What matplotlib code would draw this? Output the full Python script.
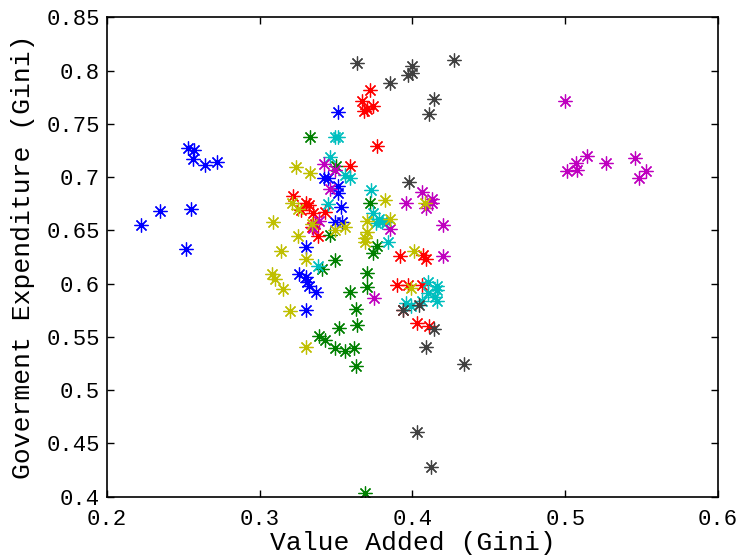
import matplotlib
matplotlib.use('Agg')
import matplotlib.pyplot as plt

# ─── Daten (Gini: Value Added vs. Government Expenditure) ─────────────────────

blue_x = [0.253, 0.257, 0.256, 0.264, 0.272, 0.222, 0.235, 0.255, 0.252, 0.351,
          0.342, 0.345, 0.351, 0.351, 0.353, 0.349, 0.354, 0.330, 0.326, 0.330,
          0.331, 0.332, 0.337, 0.330]
blue_y = [0.727, 0.725, 0.717, 0.711, 0.714, 0.655, 0.668, 0.670, 0.632, 0.761,
          0.699, 0.699, 0.692, 0.685, 0.672, 0.658, 0.658, 0.634, 0.609, 0.606,
          0.601, 0.598, 0.592, 0.575]

green_x = [0.333, 0.350, 0.372, 0.346, 0.374, 0.377, 0.349, 0.341, 0.359, 0.370,
           0.370, 0.363, 0.364, 0.352, 0.339, 0.343, 0.349, 0.356, 0.362, 0.363,
           0.369]
green_y = [0.738, 0.710, 0.676, 0.646, 0.629, 0.635, 0.622, 0.614, 0.592, 0.610,
           0.597, 0.576, 0.561, 0.558, 0.551, 0.547, 0.539, 0.537, 0.539, 0.523,
           0.403]

red_x = [0.372, 0.367, 0.374, 0.368, 0.370, 0.377, 0.359, 0.322, 0.330, 0.332,
         0.327, 0.335, 0.343, 0.336, 0.338, 0.334, 0.392, 0.407, 0.409, 0.390,
         0.397, 0.406, 0.394, 0.403, 0.411]
red_y = [0.782, 0.771, 0.767, 0.762, 0.764, 0.729, 0.710, 0.682, 0.676, 0.674,
         0.669, 0.666, 0.667, 0.656, 0.645, 0.653, 0.626, 0.627, 0.623, 0.599,
         0.599, 0.599, 0.575, 0.563, 0.560]

cyan_x = [0.349, 0.351, 0.346, 0.356, 0.359, 0.373, 0.345, 0.338, 0.374, 0.378,
          0.380, 0.376, 0.383, 0.384, 0.410, 0.416, 0.416, 0.415, 0.410, 0.406,
          0.396, 0.399, 0.416]
cyan_y = [0.738, 0.738, 0.719, 0.702, 0.699, 0.688, 0.675, 0.616, 0.666, 0.661,
          0.658, 0.657, 0.658, 0.639, 0.601, 0.598, 0.594, 0.587, 0.591, 0.584,
          0.582, 0.579, 0.584]

magenta_x = [0.500, 0.501, 0.507, 0.508, 0.514, 0.527, 0.546, 0.548, 0.553,
             0.342, 0.349, 0.346, 0.339, 0.335, 0.396, 0.406, 0.413, 0.409,
             0.413, 0.420, 0.385, 0.420, 0.375]
magenta_y = [0.771, 0.706, 0.713, 0.707, 0.720, 0.713, 0.718, 0.699, 0.706,
             0.712, 0.707, 0.689, 0.659, 0.652, 0.676, 0.686, 0.679, 0.671,
             0.676, 0.655, 0.651, 0.626, 0.586]

yellow_x = [0.324, 0.333, 0.314, 0.321, 0.325, 0.334, 0.356, 0.349, 0.325, 0.330,
            0.370, 0.370, 0.369, 0.369, 0.385, 0.382, 0.408, 0.401, 0.309, 0.308,
            0.310, 0.315, 0.320, 0.330, 0.399]
yellow_y = [0.709, 0.704, 0.631, 0.676, 0.670, 0.656, 0.653, 0.650, 0.645, 0.623,
            0.659, 0.648, 0.643, 0.639, 0.661, 0.678, 0.676, 0.631, 0.658, 0.609,
            0.604, 0.595, 0.574, 0.540, 0.596]

black_x = [0.364, 0.400, 0.397, 0.400, 0.385, 0.427, 0.414, 0.411, 0.398, 0.394,
           0.404, 0.414, 0.409, 0.434, 0.403, 0.412]
black_y = [0.807, 0.804, 0.796, 0.798, 0.788, 0.810, 0.773, 0.759, 0.695, 0.575,
           0.580, 0.557, 0.540, 0.524, 0.461, 0.428]

# MATLAB-Standardfarben (lines)
series = [
    (blue_x, blue_y, '#0000ff'),
    (green_x, green_y, '#008000'),
    (red_x, red_y, '#ff0000'),
    (cyan_x, cyan_y, '#00bfbf'),
    (magenta_x, magenta_y, '#bf00bf'),
    (yellow_x, yellow_y, '#bfbf00'),
    (black_x, black_y, '#404040'),
]

plt.rcParams['font.family'] = ['Liberation Mono', 'DejaVu Sans Mono']

fig = plt.figure(figsize=(7.44, 5.55), dpi=100)
ax = fig.add_axes([0.1438, 0.1054, 0.8212, 0.8634])

for xs, ys, col in series:
    ax.plot(xs, ys, linestyle='none', marker=(8, 2, 0), markersize=10,
            markeredgewidth=0.9, color=col)

ax.set_xlim(0.2, 0.6)
ax.set_ylim(0.4, 0.85)
ax.set_xticks([0.2, 0.3, 0.4, 0.5, 0.6])
ax.set_yticks([0.4, 0.45, 0.5, 0.55, 0.6, 0.65, 0.7, 0.75, 0.8, 0.85])
ax.set_xticklabels(['0.2', '0.3', '0.4', '0.5', '0.6'])
ax.set_yticklabels(['0.4', '0.45', '0.5', '0.55', '0.6', '0.65', '0.7', '0.75', '0.8', '0.85'])
ax.tick_params(direction='in', top=True, right=True, length=5, width=1,
               labelsize=16)
ax.tick_params(axis='x', pad=9)
ax.tick_params(axis='y', pad=5)
for sp in ax.spines.values():
    sp.set_linewidth(1.2)

ax.set_xlabel('Value Added (Gini)', fontsize=19, labelpad=1)
ax.set_ylabel('Goverment Expenditure (Gini)', fontsize=19, labelpad=8)

fig.savefig('out.png', dpi=100)
